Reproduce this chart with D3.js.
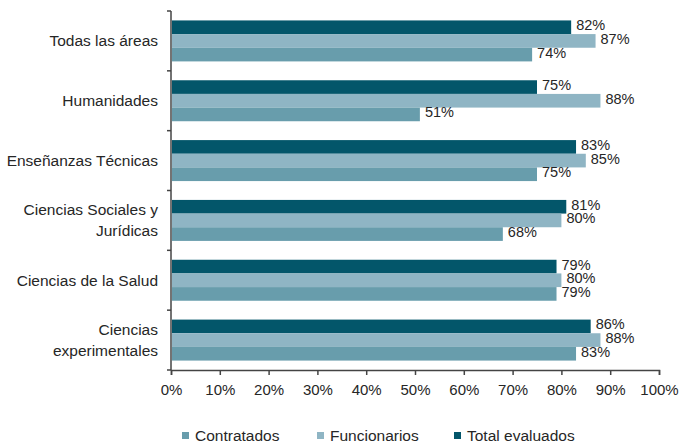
<!DOCTYPE html>
<html>
<head>
<meta charset="utf-8">
<script src="https://cdn.jsdelivr.net/npm/d3@7"></script>
<style>
  body { margin: 0; background: #fff; }
  svg { display: block; font-family: "Liberation Sans", Arial, sans-serif; }
</style>
</head>
<body>
<svg id="chart" width="679" height="441"></svg>
<script>
const categories = [
  ["Todas las áreas"],
  ["Humanidades"],
  ["Enseñanzas Técnicas"],
  ["Ciencias Sociales y", "Jurídicas"],
  ["Ciencias de la Salud"],
  ["Ciencias", "experimentales"]
];
const totalEvaluados = [82, 75, 83, 81, 79, 86];
const funcionarios = [87, 88, 85, 80, 80, 88];
const contratados = [74, 51, 75, 68, 79, 83];
const xTicks = [0, 10, 20, 30, 40, 50, 60, 70, 80, 90, 100];

const series = [
  { key: "Total evaluados", values: totalEvaluados, color: "#03566a" },
  { key: "Funcionarios", values: funcionarios, color: "#8fb5c4" },
  { key: "Contratados", values: contratados, color: "#689dac" }
];
const legendOrder = ["Contratados", "Funcionarios", "Total evaluados"];

const svg = d3.select("#chart");
const margin = { top: 11, right: 20, bottom: 71, left: 171 };
const width = 679, height = 441;
const textColor = "#262626";

const catIds = categories.map((_, i) => i);

const x = d3.scaleLinear()
  .domain([0, 100])
  .range([margin.left, 659]);

const y = d3.scaleBand()
  .domain(catIds)
  .range([margin.top, height - margin.bottom])
  .padding(0);

const ySub = d3.scaleBand()
  .domain(series.map(s => s.key))
  .range([0, y.bandwidth()])
  .paddingInner(0)
  .paddingOuter(0.69);

// barras
const groups = svg.append("g")
  .selectAll("g")
  .data(catIds)
  .join("g")
  .attr("transform", d => `translate(0,${y(d)})`);

series.forEach(s => {
  groups.append("rect")
    .attr("x", x(0) + 1)
    .attr("y", ySub(s.key))
    .attr("width", d => x(s.values[d]) - x(0) - 1)
    .attr("height", ySub.bandwidth())
    .attr("fill", s.color);
});

// etiquetas de valor (encima de todas las barras)
series.forEach(s => {
  groups.append("text")
    .attr("x", d => x(s.values[d]) + 5)
    .attr("y", ySub(s.key) + ySub.bandwidth() / 2 - 2)
    .attr("dy", "0.35em")
    .attr("font-size", "14.5px")
    .attr("fill", textColor)
    .text(d => s.values[d] + "%");
});

// eje X
const xAxis = svg.append("g")
  .attr("transform", `translate(0,${height - margin.bottom})`)
  .call(d3.axisBottom(x).tickValues(xTicks).tickFormat(d => d + "%").tickSize(5).tickSizeOuter(5));
xAxis.select(".domain").attr("stroke", "#444").attr("stroke-width", 1.5);
xAxis.selectAll(".tick line").attr("stroke", "#444").attr("stroke-width", 1.5);
xAxis.selectAll(".tick text")
  .attr("font-size", "15px")
  .attr("font-family", "Liberation Sans, Arial, sans-serif")
  .attr("fill", textColor)
  .attr("y", 14);

// eje Y
const yAxis = svg.append("g")
  .attr("transform", `translate(${margin.left},0)`);
yAxis.append("line")
  .attr("x1", 0).attr("x2", 0)
  .attr("y1", y.range()[0]).attr("y2", y.range()[1])
  .attr("stroke", "#444").attr("stroke-width", 1.5);
yAxis.selectAll("line.tick")
  .data(catIds.concat([catIds.length]))
  .join("line")
  .attr("class", "tick")
  .attr("x1", -4).attr("x2", 0)
  .attr("y1", d => d < catIds.length ? y(d) : y.range()[1])
  .attr("y2", d => d < catIds.length ? y(d) : y.range()[1])
  .attr("stroke", "#444").attr("stroke-width", 1.5);

const labels = yAxis.selectAll("text")
  .data(catIds)
  .join("text")
  .attr("text-anchor", "end")
  .attr("font-size", "15.5px")
  .attr("fill", textColor);

labels.each(function (d) {
  const lines = categories[d];
  const lh = 21;
  lines.forEach((line, i) => {
    d3.select(this).append("tspan")
      .attr("x", -13)
      .attr("y", y(d) + y.bandwidth() / 2 + (i - (lines.length - 1) / 2) * lh)
      .attr("dy", "0.35em")
      .text(line);
  });
});

// leyenda
const legendX = [182, 317, 454];
const legend = svg.append("g");
legendOrder.forEach((k, i) => {
  const s = series.find(s => s.key === k);
  legend.append("rect")
    .attr("x", legendX[i])
    .attr("y", 432)
    .attr("width", 7)
    .attr("height", 7)
    .attr("fill", s.color);
  legend.append("text")
    .attr("x", legendX[i] + 13)
    .attr("y", 441)
    .attr("font-size", "15.5px")
    .attr("fill", textColor)
    .text(k);
});
</script>
</body>
</html>
